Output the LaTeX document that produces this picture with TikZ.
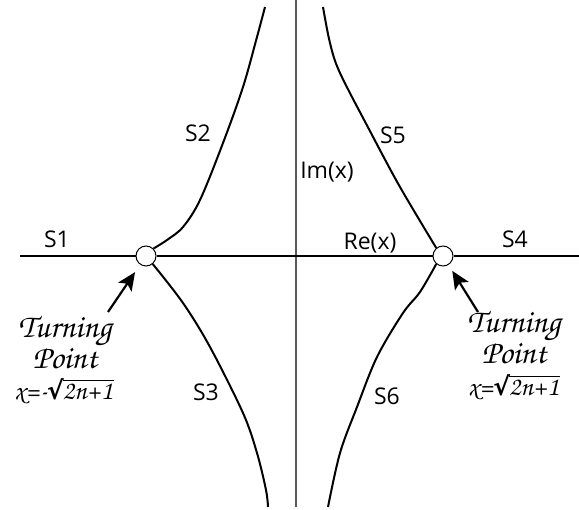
\documentclass[tikz,border=0pt]{standalone}
\usepackage[T1]{fontenc}
\usepackage{fontspec}
\usetikzlibrary{arrows.meta}
\newfontfamily\labfont{Open Sans}
\newfontfamily\radfont{DejaVu Sans}
\newcommand\chancfont{\fontencoding{T1}\fontfamily{pzc}\fontseries{mb}\fontshape{it}\selectfont}
\newcommand\myroot[1]{{\radfont\bfseries\fontsize{25}{27}\selectfont √}\kern-1.2pt\vbox{\hrule height 1.8pt\kern 2pt\hbox{#1\kern1pt}}}
\begin{document}
\begin{tikzpicture}[x=1pt,y=-1pt,
  curve/.style={line width=2pt, black, line join=round},
  axis/.style={line width=2pt, black},
  imaxis/.style={line width=1.3pt, black!65},
  tp/.style={circle, draw, line width=1pt, fill=white, minimum size=20pt, inner sep=0pt},
  lab/.style={font={\labfont\fontsize{23}{27}\selectfont}, inner sep=0pt},
  scripttext/.style={font={\chancfont\fontsize{33}{35}\selectfont}, inner sep=0pt, anchor=base},
  formula/.style={font={\chancfont\fontsize{27}{29}\selectfont}, inner sep=0pt, anchor=base},
  pointer/.style={line width=2.2pt, -{Stealth[length=18pt,width=16pt,inset=4pt]}}]
\useasboundingbox (0,0) rectangle (579,510);
% coordinates
\coordinate (h0) at (20,256);
\coordinate (h1) at (579,256);
\coordinate (v0) at (296,0);
\coordinate (v1) at (296,507);
% imaginary axis
\draw[imaxis] (v0) -- (v1);
% turning points
\node[tp] (L) at (146,256) {};
\node[tp] (R) at (443,256) {};
% real axis
\draw[axis] (h0) -- (L);
\draw[axis] (L) -- (R);
\draw[axis] (R) -- (h1);
% Stokes lines
\draw[curve] plot[smooth, tension=0.55] coordinates {(L.45) (167,240) (183,227) (200,200) (223,143) (243,87) (257,37) (265,7)};
\draw[curve] plot[smooth, tension=0.55] coordinates {(L.-50) (183,303) (210,347) (243,413) (257,453) (266,490) (268,507)};
\draw[curve] plot[smooth, tension=0.55] coordinates {(R.130) (400,187) (371,133) (340,73) (330,43) (323,7)};
\draw[curve] plot[smooth, tension=0.55] coordinates {(R.-130) (420,292) (403,313) (377,357) (357,407) (340,453) (328,507)};
% labels
\node[lab] (s1) at (57,239) {S1};
\node[lab] (s2) at (198,133) {S2};
\node[lab] (s3) at (206,392) {S3};
\node[lab] (s4) at (515,239) {S4};
\node[lab] (s5) at (393,135) {S5};
\node[lab] (s6) at (387,396) {S6};
\node[lab] (im) at (327,172) {Im(x)};
\node[lab] (re) at (370,243) {Re(x)};
% turning point texts
\node[scripttext] (lt1) at (65,338) {Turning};
\node[scripttext] (lt2) at (65,369) {Point};
\node[formula] (lt3) at (64,400) {x=-\myroot{2n+1}};
\node[scripttext] (rt1) at (514,333) {Turning};
\node[scripttext] (rt2) at (514,364) {Point};
\node[formula] (rt3) at (514,396) {x=\myroot{2n+1}};
% pointers
\coordinate (la) at (108,312);
\coordinate (ra) at (478,312);
\draw[pointer, shorten >=9pt] (la) -- (L);
\draw[pointer, shorten >=7pt] (ra) -- (R);
\end{tikzpicture}
\end{document}
